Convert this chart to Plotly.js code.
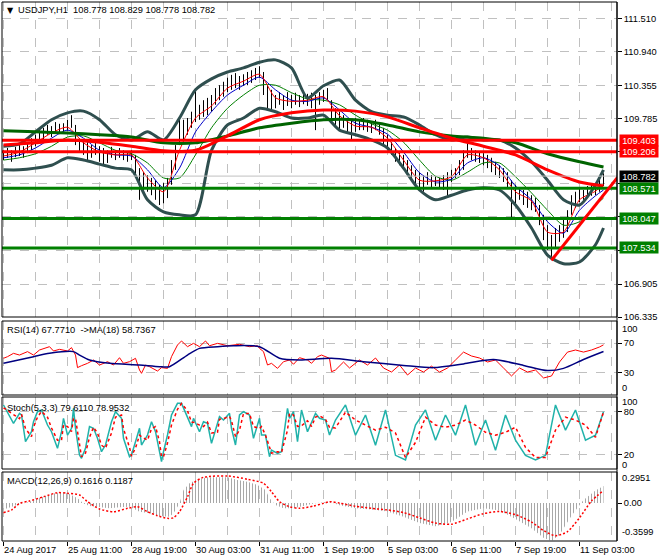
<!DOCTYPE html>
<html><head><meta charset="utf-8">
<script src="https://cdn.plot.ly/plotly-3.0.1.min.js"></script>
<style>html,body{margin:0;padding:0;background:#fff}#chart{width:660px;height:560px}</style>
</head><body><div id="chart"></div>
<script>
// ---------- DATA ----------
// OHLC bars, one entry per two hourly bars (high / low)
const barHigh = [109.23,109.27,109.23,109.29,109.32,109.30,109.36,109.44,109.50,109.58,
109.62,109.67,109.65,109.72,109.69,109.70,109.76,109.84,109.67,109.44,
109.41,109.37,109.32,109.36,109.30,109.27,109.23,109.29,109.23,109.27,
109.23,109.20,109.23,109.15,108.92,108.85,108.80,108.75,108.71,108.63,
108.66,108.75,109.06,109.32,109.81,109.76,109.79,109.90,110.28,110.02,
110.10,110.14,110.19,110.31,110.36,110.42,110.49,110.54,110.57,110.52,
110.55,110.59,110.62,110.66,110.69,110.59,110.36,110.28,110.19,110.24,
110.19,110.24,110.19,110.23,110.19,110.24,110.21,110.23,110.19,110.24,
110.28,110.31,110.10,109.96,109.90,109.84,109.79,109.76,109.79,109.76,
109.79,109.76,109.72,109.76,109.70,109.62,109.50,109.37,109.27,109.20,
109.15,109.06,108.97,108.89,108.85,108.80,108.85,108.80,108.78,108.75,
108.80,108.85,108.89,108.92,109.06,109.23,109.37,109.27,109.23,109.20,
109.18,109.15,109.10,109.03,108.97,108.92,108.85,108.71,108.63,108.58,
108.54,108.51,108.45,108.40,108.28,108.11,107.93,107.76,107.88,107.93,
108.02,108.19,108.45,108.51,108.58,108.54,108.61,108.63,108.66,108.75,
108.83];
const barLow = [109.06,109.10,109.03,109.11,109.13,109.10,109.18,109.23,109.30,109.37,
109.41,109.50,109.46,109.53,109.51,109.55,109.57,109.62,109.32,109.20,
109.15,109.06,109.10,109.15,109.03,108.97,109.01,109.10,109.06,109.10,
109.06,109.03,109.06,108.80,108.37,108.54,108.51,108.45,108.37,108.28,
108.31,108.40,108.63,108.89,109.32,109.41,109.50,109.62,109.72,109.76,
109.81,109.84,109.90,110.02,110.10,110.16,110.24,110.28,110.31,110.28,
110.35,110.36,110.40,110.45,110.49,110.19,109.96,109.93,109.96,110.02,
109.93,110.00,109.96,110.02,109.98,110.03,110.00,109.96,109.58,110.02,
110.07,110.10,109.76,109.67,109.58,109.62,109.53,109.41,109.55,109.58,
109.58,109.55,109.53,109.58,109.50,109.32,109.23,109.15,109.03,108.97,
108.89,108.80,108.71,108.63,108.54,108.51,108.63,108.58,108.61,108.58,
108.54,108.42,108.68,108.75,108.80,108.89,109.10,109.06,109.03,109.01,
108.97,108.92,108.85,108.80,108.75,108.68,108.58,108.07,108.28,108.37,
108.28,108.23,108.19,108.16,107.93,107.67,107.50,107.32,107.53,107.64,
107.71,107.81,108.11,108.23,108.33,108.37,108.40,108.44,108.45,108.51,
108.61];

// short moving averages and Bollinger bands, sampled every 8 bars
const maX = [0,8,16,24,32,40,48,56,64,72,80,88,96,104,112,120,128,136,144,152,160,168,176,184,192,200,208,216,224,232,240,248,256,264,272,280,288,296,300];
const maFast = [109.13,109.20,109.36,109.53,109.63,109.36,109.20,109.15,109.15,108.75,108.51,109.23,109.79,110.00,110.31,110.43,110.55,110.14,110.08,110.10,110.16,109.83,109.65,109.63,109.44,109.06,108.71,108.70,108.77,109.15,109.10,108.89,108.51,108.35,107.81,107.81,108.37,108.52,108.64];
const maMid = [109.10,109.15,109.27,109.44,109.58,109.44,109.23,109.15,109.13,108.89,108.58,108.92,109.55,109.90,110.19,110.36,110.50,110.28,110.10,110.08,110.14,109.93,109.70,109.63,109.51,109.20,108.84,108.68,108.73,109.01,109.10,108.96,108.61,108.37,107.99,107.79,108.19,108.44,108.54];
const maSlow = [109.06,109.10,109.17,109.30,109.46,109.48,109.36,109.23,109.17,109.01,108.75,108.75,109.15,109.62,109.96,110.19,110.36,110.36,110.23,110.12,110.10,110.02,109.84,109.69,109.58,109.37,109.06,108.78,108.71,108.85,109.01,109.01,108.77,108.49,108.19,107.93,107.99,108.28,108.40];
const bbUpper = [109.30,109.34,109.55,109.76,109.88,109.91,109.76,109.50,109.41,109.55,109.41,109.79,110.28,110.47,110.59,110.66,110.76,110.80,110.66,110.14,110.35,110.45,110.10,109.90,109.84,109.81,109.67,109.50,109.41,109.46,109.41,109.41,109.27,109.03,108.71,108.37,108.28,108.63,108.89];
const bbLower = [108.89,108.89,108.92,108.97,109.10,109.06,108.99,108.92,108.89,108.37,108.16,108.11,108.11,109.23,109.67,109.79,109.96,109.90,109.79,109.79,109.84,109.58,109.50,109.41,109.27,108.92,108.54,108.37,108.45,108.54,108.58,108.54,108.28,107.88,107.41,107.26,107.29,107.59,107.88];

// long moving averages, sampled every 16 bars
const longX = [0,16,32,48,64,80,96,112,128,144,160,176,192,208,224,240,256,272,288,300];
const maLongRed = [109.32,109.36,109.41,109.37,109.30,109.22,109.23,109.48,109.76,109.88,109.93,109.91,109.81,109.62,109.44,109.30,109.15,108.89,108.68,108.61];
const maLongGreen = [109.57,109.55,109.53,109.50,109.46,109.36,109.36,109.48,109.62,109.70,109.76,109.76,109.67,109.55,109.48,109.44,109.36,109.17,109.03,108.94];

// horizontal levels, bid and trend line
const resistLevels = [109.403, 109.206];
const supportLevels = [108.571, 108.047, 107.534];
const bidPrice = 108.782;
const trendX = [274, 307];
const trendY = [107.32, 108.76];

// RSI(14) and its MA(18)
const rsiX = [0,2,5,8,12,15,18,23,25,28,32,34,36,37,39,42,45,48,52,55,58,60,63,66,68,69,71,73,77,79,82,84,87,89,92,95,98,101,103,107,112,115,118,123,127,128,130,132,134,137,140,143,145,148,152,154,157,159,163,164,166,170,173,178,182,186,190,194,198,202,206,210,214,218,222,226,230,234,238,242,246,250,254,258,262,266,270,274,278,282,286,290,294,298,300];
const rsiVal = [49.6,51.8,56.3,54,58.6,54,60.8,65.3,59.5,61.7,59.5,64,54,37,39.6,42.8,47.3,40.5,45,40.5,50.4,42.8,45,49.6,33.8,29.3,40.5,38.3,32.4,37,36,51.8,67.6,73,65.3,69.8,65.3,73,66.6,69.8,66.6,67.6,68.5,65.3,66.6,63,58.6,40.5,42.8,36,45,47.3,41.5,50.4,47.3,42.8,51.8,54,49.6,31.5,33.8,44.6,36.5,47.3,40.5,50,36.5,31,40.5,27,36.5,31,39,31,36.5,47.3,58,52.7,50,44.6,47.3,36.5,25.7,36.5,31,33.8,23,25.7,44.6,58,60.8,58,60.8,64.9,67.771];
const rsiMaX = [0,15,23,35,38,43,53,68,78,83,92,98,107,115,128,138,148,164,180,200,215,230,245,260,272,280,290,300];
const rsiMa = [42.8,51.8,56.3,58.6,54,47.3,42.8,40.5,38.3,38.3,54,63,65.3,66.6,65.3,49.6,47.3,49.6,45,40,37,42,48,40,33,36,48,58.7367];

// Stochastic (5,3,3)
const stochX = [0,5,8,9,11,14,15,17,19,22,24,27,29,30,32,34,35,36,38,39,41,43,45,47,49,51,54,56,59,60,63,64,66,68,69,72,74,76,78,79,80,82,84,87,89,92,94,95,98,100,102,104,107,108,110,113,114,116,118,120,123,125,128,129,131,133,134,137,139,142,143,145,147,149,152,154,156,158,161,163,166,171,176,181,186,191,196,201,206,211,216,221,226,231,236,241,246,251,256,261,266,271,276,281,286,291,296,300];
const stochMain = [88.9,63.4,77.3,75,37.9,51.8,65.7,79.6,81.9,61.1,51.8,28.7,51.8,70.4,47.2,56.5,84.3,56.5,19.4,14.8,28.7,58.8,56.5,42.6,24,33.3,65.7,79.6,70.4,42.6,17.1,19.4,37.9,56.5,33.3,47.2,65.7,51.8,24,10.2,24,47.2,75,91.2,91.2,70.4,58.8,70.4,51.8,65.7,63.4,35.6,65.7,72.7,68,77.3,56.5,33.3,75,79.6,75,42.6,70.4,47.2,47.2,17.1,26.4,21.8,24,84.3,70.4,79.6,37.9,81.9,51.8,65.7,77.3,70.4,68,47.2,68,89,47,75,33,82,19,12.5,61,82,40,75,47,89,33,68,26,75,40,19,12.5,19,89,54,82,40,47,79.611];
const stochSignal = [85,75,70,76,56,45,58,72,80,72,57,40,40,61,59,52,70,70,38,17,22,44,58,50,33,29,50,72,75,56,30,18,29,47,45,40,56,59,38,17,17,36,61,83,91,81,65,65,61,59,65,50,51,69,70,73,67,45,54,77,77,59,56,59,47,32,22,24,23,54,77,75,59,60,67,59,72,74,69,58,57,79,68,61,54,58,50,16,37,72,61,58,61,68,61,51,47,51,58,30,16,16,54,72,68,61,44,78.9532];

// MACD (12,26,9)
const macdX = [0,5,8,13,15,20,25,30,33,37,40,43,48,53,58,63,68,73,78,83,85,88,90,93,97,102,107,112,117,122,127,131,133,136,140,145,150,155,160,163,168,176,184,192,200,208,216,224,232,240,248,256,264,270,274,278,284,290,296,300];
const macdHist = [-0.06,-0.025,-0.01,0.01,0.03,0.06,0.09,0.10,0.086,0.045,-0.003,-0.028,-0.04,-0.05,-0.04,-0.034,-0.082,-0.097,-0.123,-0.13,-0.097,-0.003,0.124,0.188,0.226,0.245,0.245,0.245,0.219,0.203,0.172,0.124,0.045,-0.018,-0.05,-0.05,-0.028,-0.003,0.008,0.013,-0.02,-0.05,-0.06,-0.08,-0.13,-0.19,-0.22,-0.18,-0.08,-0.05,-0.07,-0.15,-0.24,-0.33,-0.36,-0.30,-0.12,0.03,0.12,0.1616];
const macdSigX = [0,4,8,13,20,27,32,38,42,48,55,62,67,72,77,82,85,88,92,95,100,112,122,130,134,138,143,148,155,160,163,168,176,184,192,200,208,216,224,232,240,248,256,264,270,276,282,288,294,300];
const macdSignal = [-0.091,-0.066,-0.003,0.02,0.06,0.099,0.093,0.077,0.013,-0.056,-0.082,-0.05,-0.034,-0.082,-0.12,-0.145,-0.139,-0.082,0.06,0.188,0.245,0.257,0.226,0.188,0.108,0.013,-0.034,-0.05,-0.028,-0.003,0.013,0.0,-0.03,-0.05,-0.065,-0.09,-0.14,-0.19,-0.2,-0.15,-0.1,-0.08,-0.11,-0.18,-0.26,-0.31,-0.27,-0.14,0.02,0.1187];

// axes
const timeTicks = [0,32,64,96,128,160,192,224,256,288];
const timeLabels = ['24 Aug 2017','25 Aug 11:00','28 Aug 19:00','30 Aug 03:00','31 Aug 11:00','1 Sep 19:00','5 Sep 03:00','6 Sep 11:00','7 Sep 19:00','11 Sep 03:00'];
const timeMinor = [16,48,80,112,144,176,208,240,272,304];
const priceTicks = [111.510,110.940,110.355,109.785,109.215,108.645,108.075,107.490,106.905,106.335];
const priceTickText = ['111.510','110.940','110.355','109.785','','','','','106.905','106.335'];

// ---------- BUILD ----------
const FONT = {family: 'Liberation Sans, Arial, sans-serif', size: 9.3, color: '#000'};
const GRID = '#c0c0c0';
const X0 = -0.75, X1 = 306.75;
const hours = barHigh.map((_, i) => i * 2);
const bx = [], by = [];
hours.forEach((h, i) => { bx.push(h, h, null); by.push(barHigh[i], barLow[i], null); });

function ln(x, y, color, width, yaxis, extra) {
  return Object.assign({type: 'scatter', mode: 'lines', x: x, y: y, yaxis: yaxis,
    line: {color: color, width: width}, hoverinfo: 'skip', showlegend: false}, extra || {});
}
const spl = (c, w, d) => ({line: {color: c, width: w, shape: 'spline', smoothing: 0.7, dash: d || 'solid'}});

const traces = [
  ln(bx, by, '#000', 1, 'y'),
  ln(maX, maSlow, '#008000', 1, 'y', spl('#008000', 1)),
  ln(maX, maMid, '#0000c8', 1, 'y', spl('#0000c8', 1)),
  ln(maX, maFast, '#ff0000', 1, 'y', spl('#ff0000', 1)),
  ln(maX, bbUpper, '#2f4f4f', 3, 'y', spl('#2f4f4f', 3)),
  ln(maX, bbLower, '#2f4f4f', 3, 'y', spl('#2f4f4f', 3)),
  ln(longX, maLongGreen, '#006400', 3, 'y', spl('#006400', 3)),
  ln(longX, maLongRed, '#ff0000', 3, 'y', spl('#ff0000', 3)),
  ln([X0, X1], [bidPrice, bidPrice], '#c0c0c0', 1, 'y'),
];
resistLevels.forEach(v => traces.push(ln([X0, X1], [v, v], '#ff0000', 3, 'y')));
supportLevels.forEach(v => traces.push(ln([X0, X1], [v, v], '#008000', 3, 'y')));
traces.push(ln(trendX, trendY, '#ff0000', 3, 'y'));
// RSI
traces.push(ln(rsiX, rsiVal, '#ff0000', 1, 'y2'));
traces.push(ln(rsiMaX, rsiMa, '#000080', 1.5, 'y2', spl('#000080', 1.5)));
// Stoch
traces.push(ln(stochX, stochMain, '#20b2aa', 1.5, 'y3'));
traces.push(ln(stochX, stochSignal, '#ff0000', 1.5, 'y3', {line: {color: '#ff0000', width: 1.5, dash: '3px,3px'}}));
// MACD
traces.push({type: 'scatter', mode: 'lines', x: macdX, y: macdHist, yaxis: 'y4', fill: 'tozeroy',
  fillcolor: 'rgba(0,0,0,0)', fillpattern: {shape: '|', size: 3, solidity: 0.34, fgcolor: '#a8a8a8', bgcolor: 'rgba(255,255,255,0)'},
  line: {width: 0, color: '#c0c0c0'}, hoverinfo: 'skip', showlegend: false});
traces.push(ln(macdSigX, macdSignal, '#ff0000', 1.5, 'y4', spl('#ff0000', 1.5, '2px,2px')));

const px = v => (v - 2) / 615;
const py = v => (541 - v) / 539;
const D_MAIN = [py(317), 1], D_RSI = [py(395), py(321)], D_STO = [py(469), py(397)], D_MACD = [0, py(472)];

const yBase = {side: 'right', ticks: 'outside', ticklen: 4, tickcolor: '#000', showline: false, zeroline: false,
  showgrid: true, gridcolor: GRID, griddash: 'dash', gridwidth: 1, tickfont: FONT, fixedrange: true};

const annots = [];
function note(text, x, y, opts) {
  annots.push(Object.assign({text: text, x: x, y: y, xref: 'paper', yref: 'paper', showarrow: false,
    xanchor: 'left', yanchor: 'middle', font: FONT, borderpad: 0}, opts || {}));
}
note('\u25BC', px(6), py(10), {font: {family: 'DejaVu Sans', size: 8, color: '#000'}});
note('USDJPY,H1\u00a0\u00a0108.778 108.829 108.778 108.782', px(17), py(10));
note('RSI(14) 67.7710\u00a0\u00a0->MA(18) 58.7367', px(6), py(330));
note('Stoch(5,3,3) 79.6110 78.9532', px(6), py(408));
note('MACD(12,26,9) 0.1616 0.1187', px(6), py(481));
[['100', 329], ['0', 388], ['100', 401.5], ['0', 465], ['0.2951', 478], ['-0.3599', 532]].forEach(a => note(a[0], px(621), py(a[1])));

function box(val, bg) {
  annots.push({text: val.toFixed(3), x: 1, xref: 'paper', xshift: 2, y: val, yref: 'y', showarrow: false,
    xanchor: 'left', yanchor: 'middle', bgcolor: bg, width: 38, height: 11, borderpad: 0,
    font: {family: FONT.family, size: FONT.size, color: '#fff'}});
}
resistLevels.forEach(v => box(v, '#ff0000'));
box(bidPrice, '#000000');
supportLevels.forEach(v => box(v, '#008000'));

const frame = (d) => ({type: 'rect', xref: 'paper', yref: 'paper', x0: 0, x1: 1, y0: d[0], y1: d[1], line: {color: '#000', width: 1}, layer: 'above'});

const layout = {
  width: 660, height: 560, margin: {l: 2, r: 43, t: 2, b: 19}, paper_bgcolor: '#fff', plot_bgcolor: '#fff',
  font: FONT, showlegend: false,
  xaxis: {anchor: 'y4', range: [X0, X1], tickmode: 'array', tickvals: timeTicks, ticktext: timeLabels,
    ticks: 'outside', ticklen: 4, tickcolor: '#000', ticklabelposition: 'outside right', tickfont: FONT,
    showgrid: true, gridcolor: GRID, griddash: 'dash', zeroline: false, showline: false, fixedrange: true,
    minor: {tickmode: 'array', tickvals: timeMinor, showgrid: true, gridcolor: GRID, griddash: 'dash', ticks: ''}},
  yaxis: Object.assign({}, yBase, {domain: D_MAIN, range: [106.335, 111.805], tickmode: 'array', tickvals: priceTicks, ticktext: priceTickText}),
  yaxis2: Object.assign({}, yBase, {domain: D_RSI, range: [0, 100], tickmode: 'array', tickvals: [70, 30], ticktext: ['70', '30']}),
  yaxis3: Object.assign({}, yBase, {domain: D_STO, range: [0, 100], tickmode: 'array', tickvals: [80, 20], ticktext: ['80', '20']}),
  yaxis4: Object.assign({}, yBase, {domain: D_MACD, range: [-0.3599, 0.2951], tickmode: 'array', tickvals: [0], ticktext: ['0.00'], showgrid: false}),
  shapes: [frame(D_MAIN), frame(D_RSI), frame(D_STO), frame(D_MACD),
    {type: 'line', xref: 'paper', yref: 'paper', x0: 1, x1: 1, y0: 0, y1: 1, line: {color: '#000', width: 1}, layer: 'above'}],
  annotations: annots
};
Plotly.newPlot('chart', traces, layout, {staticPlot: true, displayModeBar: false});
</script></body></html>
